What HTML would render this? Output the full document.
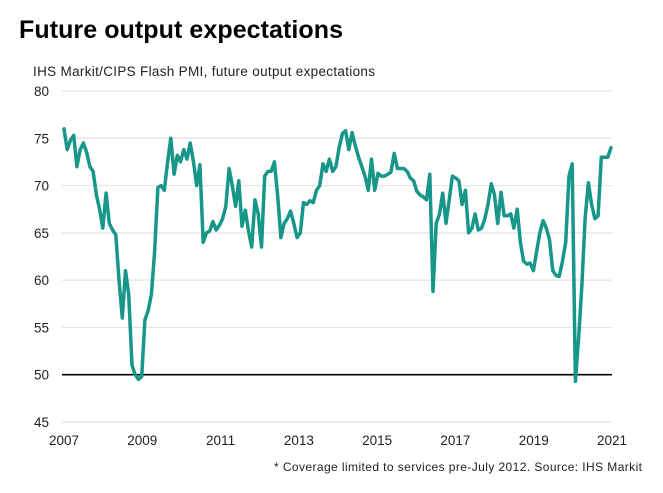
<!DOCTYPE html>
<html><head><meta charset="utf-8"><style>
html,body{margin:0;padding:0;background:#fff;}
body{width:663px;height:493px;overflow:hidden;font-family:"Liberation Sans",Arial,sans-serif;}
svg{display:block;}
</style></head><body>
<svg id="chart" width="663" height="493" viewBox="0 0 663 493" font-family="Liberation Sans, Arial, sans-serif">
<text x="19" y="38" font-size="25" font-weight="bold" fill="#000" textLength="324">Future output expectations</text>
<text x="33" y="76" font-size="13.5" fill="#222" textLength="342">IHS Markit/CIPS Flash PMI, future output expectations</text>
<g id="grid"></g>
<g id="yaxis"></g>
<g id="xaxis"></g>
<g id="series"></g>
<text x="642" y="471" font-size="12" fill="#222" text-anchor="end" textLength="368">* Coverage limited to services pre-July 2012. Source: IHS Markit</text>
</svg>
<script>
const yTicks = [45, 50, 55, 60, 65, 70, 75, 80];
const xTickLabels = ["2007", "2009", "2011", "2013", "2015", "2017", "2019", "2021"];
const startYear = 2007;
const values = [
76,73.8,74.8,75.3,72,73.8,74.5,73.5,72,71.5,69,67.5,
65.5,69.2,66,65.3,64.8,60,56,61,58.5,51,50,49.5,
49.8,55.8,56.8,58.5,63,69.8,70,69.5,72.5,75,71.2,73.2,
72.5,73.8,72.8,74.5,72.5,70,72.2,64,65,65.2,66.2,65.3,
65.8,66.5,67.8,71.8,70,67.8,70.5,65.7,67.4,65.2,63.5,68.5,
67,63.5,71,71.5,71.5,72.5,69,64.5,66,66.5,67.3,66,
64.5,65,68.2,68,68.4,68.2,69.5,70,72.3,71.5,72.8,71.5,
72,74,75.5,75.8,73.8,75.6,74.2,73,72,71,69.5,72.8,
69.5,71.3,71,71,71.2,71.4,73.4,71.8,71.8,71.8,71.5,70.8,
70.5,69.4,69,68.8,68.5,71.2,58.8,66,67,69.2,66,68.5,
71,70.8,70.5,68,69.5,65,65.5,67,65.3,65.5,66.5,68,
70.2,69,66,69.3,66.8,66.8,67,65.5,67.5,64,62,61.7,
61.8,61,63,65,66.3,65.5,64.3,61,60.5,60.4,62,64,
71,72.3,49.3,54,59.5,66.5,70.3,68,66.5,66.8,73,73,
73,74
];
const NS="http://www.w3.org/2000/svg";
const X0=64, X1=612, Y45=422, Y80=91;
function xScale(t){return X0+(t-startYear)*(X1-X0)/14;}
function yScale(v){return Y45-(v-45)*(Y45-Y80)/35;}
const grid=document.getElementById('grid'), ya=document.getElementById('yaxis'), xa=document.getElementById('xaxis'), ser=document.getElementById('series');
yTicks.forEach(v=>{
  const l=document.createElementNS(NS,'line');
  
  
  l.setAttribute('x1',62);l.setAttribute('x2',612);
  l.setAttribute('y1',yScale(v));l.setAttribute('y2',yScale(v));
  l.setAttribute('stroke',v===50?'#000':'#e3e3e3');
  l.setAttribute('stroke-width',v===50?1.6:1.2);
  grid.appendChild(l);
  const t=document.createElementNS(NS,'text');
  
  
  t.setAttribute('x',34);t.setAttribute('y',yScale(v)+5);
  t.setAttribute('font-size','13.5');t.setAttribute('fill','#222');
  t.textContent=v;ya.appendChild(t);
});
xTickLabels.forEach(s=>{
  const t=document.createElementNS(NS,'text');
  
  
  t.setAttribute('x',xScale(+s));t.setAttribute('y',445);
  t.setAttribute('font-size','13.5');t.setAttribute('fill','#222');
  t.setAttribute('text-anchor','middle');
  t.textContent=s;xa.appendChild(t);
});
const pts=values.map((v,i)=>(xScale(startYear+i/12)-0.3*i/12).toFixed(1)+','+yScale(v).toFixed(1)).join(' ');
const pl=document.createElementNS(NS,'polyline');


pl.setAttribute('points',pts);
pl.setAttribute('fill','none');pl.setAttribute('stroke','#17968a');
pl.setAttribute('stroke-width','3.5');pl.setAttribute('stroke-linejoin','round');pl.setAttribute('stroke-linecap','round');
ser.appendChild(pl);
</script>
</body></html>
